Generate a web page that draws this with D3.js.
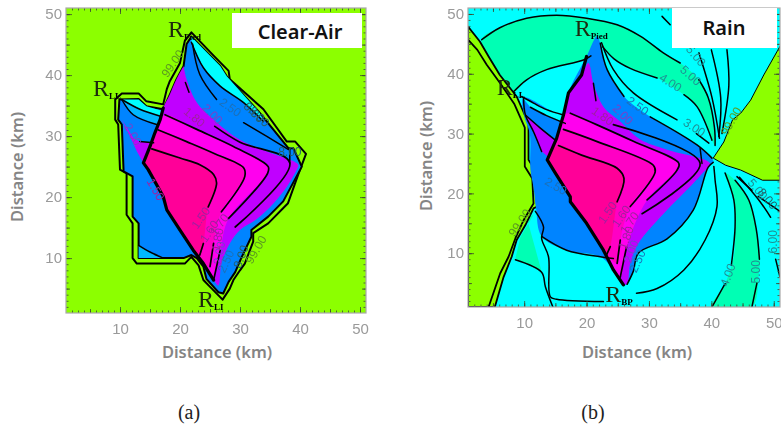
<!DOCTYPE html>
<html lang="en">
  <head>
    <meta charset="UTF-8" />
    <title>Clear-Air and Rain contour maps</title>
    <script src="https://d3js.org/d3.v7.min.js"></script>
    <style>
      body { margin: 0; background: #fff; }
      svg { display: block; }
    </style>
  </head>
  <body>
    <svg width="781" height="430"></svg>
    <script>
      const xTicks = [10, 20, 30, 40, 50];
      const yTicks = [10, 20, 30, 40, 50];

      // ---- panel (a) Clear-Air ----
      const airOuter = [[21.9,47],[25.6,43.2],[28.1,40.7],[28.3,39.3],[33.9,34.4],[37.8,29.1],[39.2,29.1],[41,27.1],[39.7,23.7],[38,19],[34.7,15.7],[32.2,14.1],[32.2,12.7],[30.8,9.1],[30,8],[28.9,6.4],[28.3,5],[27.1,3.2],[25.3,5],[23.9,6.4],[23.1,8.8],[21.9,10.2],[20.8,9.1],[12.8,9.1],[12.1,10],[12.1,15.7],[11.1,17.1],[11.1,23.9],[10,24.5],[9.7,31.9],[9.2,32.7],[9.2,36],[10.3,37],[13.1,37],[14.4,35.7],[17.2,35.2],[17.8,37.7],[18.3,39],[20,42],[20.8,45.6]];
      const airInner = [[21.9,46.3],[26.7,41.5],[27.8,39.8],[33.3,33.8],[38.1,28],[38.9,28],[40.3,25],[37.2,19.3],[34.7,16.8],[31.9,14.6],[31.9,13.5],[30.3,10.2],[29.2,7.7],[28.1,6.1],[27.2,4.2],[26.4,4.4],[24.4,6.6],[23.9,8.6],[22.8,10],[21.9,10.5],[20.6,10],[13.1,10],[13.1,15.7],[12.1,16.8],[12.1,23.4],[10.6,24.2],[10.3,31.9],[9.7,32.7],[9.9,36],[13.1,36.1],[14.4,34.9],[17.2,34.4],[18.3,36.8],[19.4,39.3],[20.6,41.5],[21.1,45.1]];
      const airRidgeTop = [[21.1,45.1],[20.6,41.5],[19.4,39.3],[18.3,36.8]];
      const airRidge = [[17.2,34.6],[16.7,32.7],[15.8,30.5],[15,28.3],[13.9,25.6],[14.7,24.5],[17.2,20.1],[17.8,17.9],[20,14.6],[22.2,11.3],[23.9,9.1],[25.6,6.4]];
      const airCyanTop = [[21.9,46.3],[26.7,41.5],[27.8,39.8],[33.3,33.8],[33.9,32.4],[30.6,35.5],[26.7,38.2],[23.9,41.2],[21.9,45.4]];
      const airCyanLobe = [[10.3,36],[13.1,36],[14.4,34.9],[17.1,34.1],[16.6,33.3],[13.3,34.4]];
      const airSkyLobe = [[10.3,36],[13.3,34.4],[16.6,33.3],[16.1,31.9],[12.2,33.5]];
      const airSkyCorner = [[13.1,12.1],[15,11],[17.2,10],[13.1,10]];
      const airPurpleLobe = [[10.3,32.7],[12.3,29.6],[13.3,29.1],[15.6,28.9],[15,28.3],[13.9,25.6],[12.8,27.5],[11.4,30.5]];
      const airPurple = [[20.6,41.5],[21.1,39.3],[22.8,35.5],[25.6,32.7],[30,29.4],[34.4,27.5],[39.7,25.3],[39.4,24.4],[37.8,21.7],[35.6,19],[32.8,16.4],[30,14.6],[28.3,12.4],[26.9,9.1],[26.4,5.5]];
      const airC18Upper = [[17.5,33.5],[22.8,31.1],[28.9,28.3],[34.7,25],[34.6,23.9],[28.1,16.5]];
      const airC18Lower = [[26.7,11.3],[25.6,6.4]];
      const airC17Upper = [[16.4,31],[21.1,29.1],[25.6,27.2],[30.6,24.8],[30.8,23.4],[26.9,17.6]];
      const airC17Lower = [[25.6,12.4],[25,8.6]];
      const airC16Upper = [[15.3,27.9],[20,26.4],[23.3,25.3],[25.6,23.7],[26.1,22.3],[24.7,18.4]];
      const airC16Lower = [[23.9,12.4],[23.3,10.5]];
      const airC19Upper = [[25.8,31.6],[30,29],[38.3,25.6],[29.2,15.1]];
      const airLines = [
        [[10.3,36],[12.2,33.5],[16.1,31.9]],
        [[10.3,36],[13.3,34.4],[16.6,33.3]],
        [[13.3,29.1],[15.6,28.9]],
        [[13.1,12.1],[15,11],[17.2,10]],
        [[21.9,45.4],[23.9,41.2],[26.7,38.2],[30.6,35.5],[33.9,32.4]],
        [[22.1,45.1],[23.3,40.1],[26.1,36]],
        [[30.6,32.2],[34.4,30],[38.1,27.8]],
        [[20.9,38.8],[21.5,37.2]],
        [[38.3,27.8],[38.3,25.6]],
      ];
      const airLabels = [
        ['99.00',18.9,41.8],['2.50',28.3,34.6],['2.00',25.3,33.5],['1.80',22.3,33],
        ['8.00',32.2,33.8],['8.00',33.1,33.1],['99.00',32.8,11.3],['8.00',30.3,10.2],['2.50',27.8,9.4],
        ['2.00',26.7,10.8],['1.80',26.4,13],['1.70',26.7,15.4],['1.60',25,14.3],['1.50',23.6,16.5],
        ['1.50',15.8,21.2],['2.00',12,30.2],['8.00',38.3,27.2],
      ];
      const airLabelAngles = [-55,35,45,40,45,45,-60,-70,-65,-80,-80,-55,-55,-55,60,60,0];
      const airSites = [['R','Pied',18,47.4],['R','LL',5.5,37.7],['R','LI',23,3.1]];

      // ---- panel (b) Rain ----
      const rainGreenOuter = [[1,47.9],[2.9,45.4],[4.3,42.9],[6.1,39.8],[8.8,36.2],[10.7,31.7],[10.7,25.6],[12,23.4],[12.1,17.8],[11.5,17.5],[10.2,14.7],[8.8,12.2],[8,9.4],[6.7,6],[5.3,1],[1,1]];
      const rainGreenInner = [[1,45.7],[2.5,44],[4,41.5],[6.1,38.5],[8.4,35],[10.1,31],[10.1,24.5],[11.3,22.5],[11.5,18.3],[9.9,15.5],[8.6,12.5],[7.5,9.4],[6.15,6.6],[4.3,1],[1,1]];
      const rainGreenRight = [[51,44.6],[48.4,39.8],[46.3,35.6],[44.7,33.4],[43.4,32.3],[42,28.6],[40.3,25.9],[42.3,24.7],[44.7,23.9],[48.2,22.2],[51,22.2]];
      const rainTealTop = [[3.2,45.7],[6.1,47.7],[10.4,49.3],[15.2,49.8],[20,49.3],[24.9,48.2],[28.6,46.3],[32.3,43.5],[35,41.8],[38,39],[39.5,36],[40.5,31],[40.6,28],[40.1,28.9],[37.7,34.5],[35.6,36.5],[31.3,39.3],[27,40.9],[24.4,42.5],[22.6,44.5],[21.7,46.3],[20.7,43],[19.5,42.3],[13.6,40.7],[10.4,39],[8.3,37]];
      const rainTealBottom = [[40.1,1],[42.2,4.9],[43.6,9.4],[43.8,14.4],[43.6,18.9],[42.2,23.4],[43.8,22.2],[46,18.9],[47.2,14],[47.8,9],[47.6,6.6],[46.5,1]];
      const rainTealLeft = [[11.5,16.4],[9.4,12.7],[8.6,9.1],[12.8,6.9],[10.4,16]];
      const rainBlue = [[21.7,46.3],[22.2,45.1],[23.3,40.7],[26,36.2],[30.2,32.8],[37.7,28.1],[40.1,25.9],[40.3,25.2],[39.5,24.4],[37.1,17.2],[32.9,12.4],[28.3,10],[27.5,7],[26.5,4.8],[25.9,4.7],[24.3,7.2],[22.2,9.4],[16.8,10.5],[12.8,12.8],[11.9,17.5],[11.5,21],[11,24],[10.9,30],[10,33],[9.9,36],[16.5,33],[17.1,36.8],[20,42.9]];
      const rainCyanLobe = [[9.6,36.2],[11.5,35.1],[13.6,34],[16.3,33.1],[16.6,31.7],[13.6,33],[11,34.4]];
      const rainPurpleLobe = [[10.2,33.1],[12.5,31],[15,28.9],[13.9,26.1],[12.8,27],[11.5,30.3]];
      const rainRidge = [[20,42.9],[19.2,39.8],[17.1,36.8],[16.3,33.1],[15.2,29.2],[13.7,25.6],[15,23.4],[17.4,19.4],[17.4,18.6],[20,15],[22.7,10.5],[24.3,7.2],[25.9,4.7]];
      const rainPurple = [[20.3,41.8],[21.1,38.4],[22.7,34.5],[25.4,32],[28.6,29],[32.9,27.3],[39.8,25],[38.5,23.3],[36.1,20.6],[32.9,17.2],[28.3,11.6],[27,8.3],[26.5,4.9],[25.9,4.7]];
      const rainC18Upper = [[17.4,33.4],[21.6,31.5],[27.5,28.7],[34.8,25],[34.5,23.9],[29.7,18.9]];
      const rainC18Lower = [[26.4,11],[25.4,6]];
      const rainC17Upper = [[16.3,30.7],[21.6,28.7],[30.7,24.7],[31,23.6],[27,17.8]];
      const rainC17Lower = [[25.4,12.2],[24.9,8.3]];
      const rainC16Upper = [[15.5,28],[19.2,26.4],[24.9,24.2],[26,22.5],[24.9,18.6]];
      const rainC16Lower = [[23.8,11.1],[23.2,9.7]];
      const rainC19 = [[24.3,31.5],[38.2,25],[28.9,16.6]];
      const rainLines = [
        [[3.2,45.7],[6.1,47.7],[10.4,49.3],[15.2,49.8],[20,49.3],[24.9,48.2],[28.6,46.3],[32.3,43.5],[35,41.8]],
        [[38,39],[39.5,36],[40.5,31],[40.6,28]],
        [[8.3,37],[10.4,39],[13.6,40.7],[19.5,42.3],[20.7,43]],
        [[22.6,44.5],[24.4,42.5],[27,40.9],[31.3,39.3]],
        [[35.6,36.5],[37.7,34.5],[40.1,28.9]],
        [[22.4,45.2],[24.3,40.7],[27.5,36.8],[34.5,32.3]],
        [[37.6,30],[39.6,28.4]],
        [[22.2,45.1],[23.3,40.7],[26,36.2]],
        [[30.2,32.8],[37.7,28.1],[40.1,25.9]],
        [[21.1,38.4],[21.5,35.5]],
        [[38.2,27.5],[38.5,25]],
        [[9.9,36],[10.2,33.1],[11.5,30.3],[12.8,27]],
        [[9.6,36.2],[11.5,35.1],[13.6,34],[16.3,33.1]],
        [[11,34.4],[13.6,33],[16.6,31.7]],
        [[10.2,33.1],[12.5,31],[15,28.9]],
        [[26.5,4.8],[27.5,7],[28.3,10],[32.9,12.4],[37.1,17.2],[39.5,24.4],[40.3,25.2]],
        [[28,3.3],[31.3,4.1],[35.6,7.2],[39,12.2],[40.9,17.8],[40.6,22.2],[40.4,24.5]],
        [[40.1,1],[42.2,4.9]],[[43.2,8],[43.8,14.4],[43.6,18.9],[42.2,23.4]],
        [[46.5,1],[47.3,5]],[[47.7,9],[47.2,14],[46,18.9],[43.8,22.2]],
        [[44.5,22.7],[47.6,18.9],[49.5,16]],
        [[50.3,9],[51,6]],
        [[44.1,22.8],[46.5,20.5]],[[47.5,19.5],[51,17]],
        [[32.1,49.6],[33.4,48.2]],
        [[38,43.5],[40.1,36],[41.3,29.2]],
        [[40,44],[41.5,36],[41.2,29.5]],
        [[42.5,44],[42.8,38],[41.7,30]],
        [[8.6,8.9],[12.8,6.8],[13.4,4.4],[14.6,1]],
        [[11.8,17],[13.1,14.4],[12.8,12.5],[13.9,9.4],[14.2,2.7],[15.2,2.3],[22.7,1.9]],
        [[12.8,12.8],[16.8,10.5],[22.2,9.4],[24.3,9.1]],
      ];
      const rainLabels = [
        ['5.00',36.6,39.6],['5.00',37.4,42.9],['4.00',33.4,38.4],['3.00',37.2,30.9],['2.50',28.1,34.5],['2.00',25.7,33.1],['1.80',22.5,32.8],
        ['99.00',43.3,32],['5.00',47.3,20.6],['8.00',48.9,19],['6.00',50,11.9],['5.00',47.3,6.9],['4.00',42.8,6.3],['99.00',9.4,15],
        ['2.50',28.3,8.6],['1.50',23.5,16.7],['1.60',25.7,16.1],['1.70',27,15],['1.80',26.5,12.5],['2.00',27.3,10.2],['2.50',15,21.1],
      ];
      const rainLabelAngles = [42,50,32,33,35,45,35,-60,50,50,-90,-90,-70,-55,-65,-55,-55,-55,-70,-70,30];
      const rainSites = [['R','Pied',18.1,47.5],['R','LL',5.6,37.6],['R','BP',23,3]];

      const colors = {
        green: '#8cff00',
        blue: '#0084ff',
        sky: '#00b8ff',
        cyan: '#00ffff',
        teal: '#00ffb4',
        purple: '#c000ff',
        magenta: '#ff00ee',
        hot: '#ff00c4',
        pink: '#ff0098',
      };

      function labelColor(text) {
        if (text === '99.00') return '#5c9c20';
        if (text === '8.00') return '#24606a';
        if (text === '4.00' || text === '5.00' || text === '6.00' || text === '3.00') return '#1f8f94';
        if (text === '2.50') return '#1c70b8';
        if (text === '2.00') return '#7a40c8';
        return '#a020a0';
      }

      const svg = d3.select('svg');
      const defs = svg.append('defs');
      defs.append('filter').attr('id', 'soft').append('feGaussianBlur').attr('stdDeviation', 0.45);

      function makePanel(left, right, bottom, top) {
        const x = d3.scaleLinear().domain([1, 51]).range([left, right]);
        const y = d3.scaleLinear().domain([1, 51]).range([bottom, top]);
        const clipId = 'clip' + left;
        defs.append('clipPath').attr('id', clipId).append('rect')
          .attr('x', left).attr('y', top).attr('width', right - left).attr('height', bottom - top);
        const g = svg.append('g').attr('filter', 'url(#soft)');
        const plot = g.append('g').attr('clip-path', `url(#${clipId})`);
        const line = d3.line().x((d) => x(d[0])).y((d) => y(d[1]));
        const curve = d3.line().x((d) => x(d[0])).y((d) => y(d[1])).curve(d3.curveCatmullRom.alpha(0.5));
        const curveClosed = d3.line().x((d) => x(d[0])).y((d) => y(d[1])).curve(d3.curveCatmullRomClosed.alpha(0.5));
        return {
          x, y, g, plot,
          zone(pts, color, width) {
            plot.append('path').attr('d', line(pts) + 'Z').attr('fill', color)
              .attr('stroke', width ? '#000' : 'none').attr('stroke-width', width || 0)
              .attr('stroke-linejoin', 'round');
          },
          smooth(pts, color) {
            plot.append('path').attr('d', curveClosed(pts)).attr('fill', color);
          },
          stroke(pts, width) {
            plot.append('path').attr('d', line(pts)).attr('fill', 'none')
              .attr('stroke', '#000').attr('stroke-width', width)
              .attr('stroke-linejoin', 'round').attr('stroke-linecap', 'round');
          },
          contour(pts, width) {
            plot.append('path').attr('d', curve(pts)).attr('fill', 'none')
              .attr('stroke', '#000').attr('stroke-width', width)
              .attr('stroke-linecap', 'round');
          },
        };
      }

      // closes a contour back along the ridge so it can be filled
      function band(contour, ridge) {
        const hi = contour[0][1];
        const lo = contour[contour.length - 1][1];
        const back = ridge.filter((p) => p[1] <= hi && p[1] >= lo).reverse();
        return contour.concat(back);
      }

      function drawAxes(p, labelX, labelY, xLabelPos, yLabelPos) {
        const [left, right] = p.x.range();
        const [bottom, top] = p.y.range();
        const tickColor = '#3c4a30';
        const parts = [
          [d3.axisBottom(p.x), `translate(0,${bottom})`],
          [d3.axisTop(p.x), `translate(0,${top})`],
          [d3.axisLeft(p.y), `translate(${left},0)`],
          [d3.axisRight(p.y), `translate(${right},0)`],
        ];
        parts.forEach(([axis, tr]) => {
          [[d3.range(2, 51), 2.5], [d3.range(5, 51, 5), 4], [xTicks, 6]].forEach(([vals, len]) => {
            const a = p.g.append('g').attr('transform', tr)
              .call(axis.tickValues(vals).tickSize(-len).tickFormat(''));
            a.select('.domain').remove();
            a.selectAll('line').attr('stroke', tickColor).attr('stroke-width', 0.8);
          });
        });
        p.g.append('rect').attr('x', left).attr('y', top)
          .attr('width', right - left).attr('height', bottom - top)
          .attr('fill', 'none').attr('stroke', '#a8a8a8').attr('stroke-width', 1.2);

        const fmt = d3.format('d');
        const xa = p.g.append('g').attr('transform', `translate(0,${bottom})`)
          .call(d3.axisBottom(p.x).tickValues(xTicks).tickSize(0).tickPadding(10).tickFormat(fmt));
        const ya = p.g.append('g').attr('transform', `translate(${left},0)`)
          .call(d3.axisLeft(p.y).tickValues(yTicks).tickSize(0).tickPadding(4).tickFormat(fmt));
        [xa, ya].forEach((a) => {
          a.select('.domain').remove();
          a.selectAll('text').attr('font-family', '"Liberation Sans"').attr('font-size', 15).attr('fill', '#9a9a9a');
        });
        svg.append('text').attr('x', xLabelPos).attr('y', labelX).attr('text-anchor', 'middle')
          .attr('font-family', '"Noto Sans"').attr('font-weight', 600).attr('font-size', 16.5).attr('fill', '#858585')
          .text('Distance (km)');
        svg.append('text').attr('transform', `translate(${labelY},${yLabelPos}) rotate(-90)`).attr('text-anchor', 'middle')
          .attr('font-family', '"Noto Sans"').attr('font-weight', 600).attr('font-size', 16.5).attr('fill', '#858585')
          .text('Distance (km)');
      }

      function drawLabels(p, labels, angles) {
        labels.forEach((d, i) => {
          p.plot.append('text')
            .attr('transform', `translate(${p.x(d[1])},${p.y(d[2])}) rotate(${angles[i]})`)
            .attr('text-anchor', 'middle').attr('dominant-baseline', 'middle')
            .attr('font-family', '"Liberation Sans"').attr('font-size', 12)
            .attr('fill', labelColor(d[0])).text(d[0]);
        });
      }

      function drawSites(p, sites) {
        sites.forEach((d) => {
          const t = p.plot.append('text')
            .attr('x', p.x(d[2])).attr('y', p.y(d[3]) + 7)
            .attr('font-family', '"Liberation Serif"')
            .attr('fill', '#1c2a10');
          t.append('tspan').attr('font-size', 24).text(d[0]);
          t.append('tspan').attr('font-size', 9).attr('dy', 3).attr('font-weight', 700).attr('fill', '#000').text(d[1]);
        });
      }

      function drawBox(x0, y0, w, h, name, cx, cy) {
        svg.append('rect').attr('x', x0).attr('y', y0).attr('width', w).attr('height', h).attr('fill', '#fff');
        svg.append('text').attr('x', cx).attr('y', cy + 7).attr('text-anchor', 'middle')
          .attr('font-family', '"Noto Sans"').attr('font-weight', 600).attr('font-size', 20).attr('fill', '#111')
          .text(name);
      }

      // panel (a)
      const a = makePanel(66, 366, 313, 8);
      a.zone([[1,1],[1,51],[51,51],[51,1]], colors.green);
      a.zone(airOuter, colors.green, 2);
      a.zone(airInner, colors.blue, 2);
      a.zone(airSkyCorner, colors.sky);
      a.zone(airCyanTop, colors.cyan);
      a.zone(airSkyLobe, colors.sky);
      a.zone(airCyanLobe, colors.cyan);
      a.zone(airPurpleLobe, colors.purple);
      const airEdge = airRidgeTop.concat(airRidge);
      a.smooth(band(airPurple, airEdge), colors.purple);
      a.smooth(band(airC18Upper.concat(airC18Lower), airEdge), colors.magenta);
      a.smooth(band(airC17Upper.concat(airC17Lower), airEdge), colors.hot);
      a.smooth(band(airC16Upper.concat(airC16Lower), airEdge), colors.pink);
      [airC18Upper, airC18Lower, airC17Upper, airC17Lower, airC16Upper, airC16Lower, airC19Upper].forEach((c) => a.contour(c, 1.7));
      airLines.forEach((c) => a.contour(c, 1.5));
      a.stroke(airRidge, 3.2);
      drawLabels(a, airLabels, airLabelAngles);
      drawSites(a, airSites);
      drawAxes(a, 358, 23, 217, 167);
      drawBox(232, 13, 130, 35, 'Clear-Air', 300, 32);

      // panel (b)
      const b = makePanel(468, 780, 307, 8);
      b.zone([[1,1],[1,51],[51,51],[51,1]], colors.cyan);
      b.smooth(rainTealTop, colors.teal);
      b.smooth(rainTealBottom, colors.teal);
      b.zone(rainTealLeft, colors.teal);
      b.zone(rainGreenOuter, colors.green, 1.8);
      b.zone(rainGreenInner, colors.green, 1.8);
      b.zone(rainGreenRight, colors.green, 1);
      b.smooth(rainBlue, colors.blue);
      b.zone(rainCyanLobe, colors.cyan);
      b.zone(rainPurpleLobe, colors.purple);
      b.smooth(band(rainPurple, rainRidge), colors.purple);
      b.smooth(band(rainC18Upper.concat(rainC18Lower), rainRidge), colors.magenta);
      b.smooth(band(rainC17Upper.concat(rainC17Lower), rainRidge), colors.hot);
      b.smooth(band(rainC16Upper.concat(rainC16Lower), rainRidge), colors.pink);
      [rainC18Upper, rainC18Lower, rainC17Upper, rainC17Lower, rainC16Upper, rainC16Lower, rainC19].forEach((c) => b.contour(c, 1.7));
      rainLines.forEach((c) => b.contour(c, 1.5));
      b.stroke(rainRidge, 3.2);
      drawLabels(b, rainLabels, rainLabelAngles);
      drawSites(b, rainSites);
      drawAxes(b, 358, 432, 637, 156);
      drawBox(672, 8, 105, 40, 'Rain', 724, 28);

      // captions
      [['(a)', 189], ['(b)', 593]].forEach(([t, cx]) => {
        svg.append('text').attr('x', cx).attr('y', 419).attr('text-anchor', 'middle')
          .attr('font-family', '"Liberation Serif"').attr('font-size', 20).attr('fill', '#222').text(t);
      });
    </script>
  </body>
</html>
